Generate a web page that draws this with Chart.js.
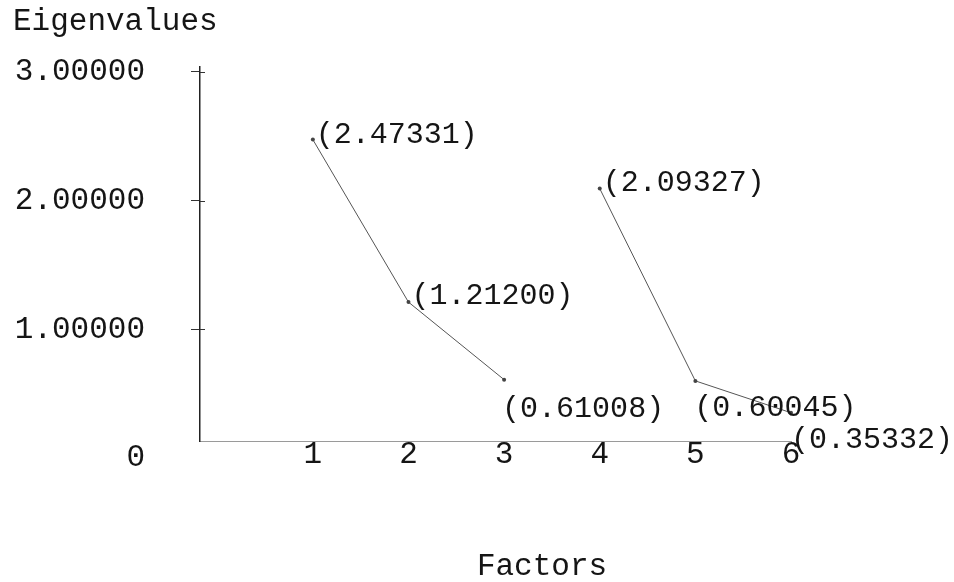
<!DOCTYPE html>
<html lang="en">
<head>
<meta charset="utf-8">
<title>Eigenvalues</title>
<script src="https://cdn.jsdelivr.net/npm/chart.js@4/dist/chart.umd.min.js"></script>
<style>
  html, body { margin: 0; padding: 0; background: #fff; }
  #wrap { width: 954px; height: 582px; }
</style>
</head>
<body>
<div id="wrap"><canvas id="chart" width="954" height="582"></canvas></div>
<script>
'use strict';

// Eigenvalues per factor, two separate runs (1-3 and 4-6)
const FACTORS_A = [1, 2, 3];
const EIGEN_A   = [2.47331, 1.21200, 0.61008];
const FACTORS_B = [4, 5, 6];
const EIGEN_B   = [2.09327, 0.60045, 0.35332];

// Axis ticks
const X_TICKS       = [1, 2, 3, 4, 5, 6];
const Y_TICKS       = [0, 1, 2, 3];
const Y_TICK_LABELS = ['0', '1.00000', '2.00000', '3.00000'];

const Y_TITLE = 'Eigenvalues';
const X_TITLE = 'Factors';

// Typewriter look
const MONO = "'Liberation Mono', 'Courier New', monospace";
const INK  = '#151515';

// Label offsets relative to each point [dx, dy], per dataset
const LABEL_OFFSETS = [
  [[3, -5], [3, -6], [-2, 29]],
  [[3, -6], [-1, 27], [0, 27]],
];

// Point labels "(x.xxxxx)" next to every point
const pointLabels = {
  id: 'pointLabels',
  afterDatasetsDraw(chart) {
    const ctx = chart.ctx;
    ctx.save();
    ctx.font = '30px ' + MONO;
    ctx.fillStyle = INK;
    ctx.textAlign = 'left';
    ctx.textBaseline = 'middle';
    chart.data.datasets.forEach((ds, di) => {
      const meta = chart.getDatasetMeta(di);
      meta.data.forEach((pt, i) => {
        const [dx, dy] = LABEL_OFFSETS[di][i];
        ctx.fillText('(' + ds.data[i].y.toFixed(5) + ')', pt.x + dx, pt.y + dy);
      });
    });
    ctx.restore();
  },
};

// Axis titles and the right half of the y tick crosses
const axisExtras = {
  id: 'axisExtras',
  afterDraw(chart) {
    const ctx = chart.ctx;
    const y = chart.scales.y;
    ctx.save();

    // Typewriter ticks cross the axis: add the inner half
    ctx.strokeStyle = '#333';
    ctx.lineWidth = 1;
    Y_TICKS.forEach(v => {
      if (v < y.min || v > y.max) return;
      const py = Math.round(y.getPixelForValue(v)) + 0.5;
      ctx.beginPath();
      ctx.moveTo(y.right, py);
      ctx.lineTo(y.right + 5, py);
      ctx.stroke();
    });

    ctx.font = '31px ' + MONO;
    ctx.fillStyle = INK;
    ctx.textBaseline = 'middle';
    ctx.textAlign = 'left';
    ctx.fillText(Y_TITLE, 13, 22);
    ctx.textAlign = 'center';
    ctx.fillText(X_TITLE, 542, 567);
    ctx.restore();
  },
};

function punkte(xs, ys) {
  return xs.map((x, i) => ({ x, y: ys[i] }));
}

const lineStyle = {
  borderColor: '#555',
  borderWidth: 1,
  pointRadius: 2,
  pointBackgroundColor: '#444',
  pointBorderColor: '#444',
  pointBorderWidth: 0,
  tension: 0,
  fill: false,
  clip: false,
};

new Chart(document.getElementById('chart'), {
  type: 'line',
  data: {
    datasets: [
      Object.assign({ label: 'Run 1', data: punkte(FACTORS_A, EIGEN_A) }, lineStyle),
      Object.assign({ label: 'Run 2', data: punkte(FACTORS_B, EIGEN_B) }, lineStyle),
    ],
  },
  options: {
    responsive: false,
    animation: false,
    devicePixelRatio: 1,
    layout: { padding: { top: 67, right: 163, left: 0, bottom: 0 } },
    plugins: {
      legend:  { display: false },
      tooltip: { enabled: false },
    },
    scales: {
      x: {
        type: 'linear',
        min: -0.18,
        max: 6,
        afterBuildTicks(scale) {
          scale.ticks = X_TICKS.map(v => ({ value: v }));
        },
        afterFit(scale) { scale.height = 141; },
        grid:   { display: false },
        border: { display: true, color: '#9a9a9a', width: 1, dash: [2, 2] },
        ticks: {
          padding: -10,
          color: INK,
          font: { family: MONO, size: 31, lineHeight: 1 },
          maxRotation: 0,
          callback: v => String(v),
        },
      },
      y: {
        type: 'linear',
        min: 0.134,
        max: 3.037,
        afterBuildTicks(scale) {
          // 0 lies just below the drawn axis, like in the original
          scale.ticks = Y_TICKS.map(v => ({ value: v }));
        },
        afterFit(scale) { scale.width = 200; },
        grid: {
          drawOnChartArea: false,
          drawTicks: true,
          tickLength: 9,
          // no tick mark for 0 (it sits below the axis end)
          color: c => (c.tick && c.tick.value === 0 ? 'rgba(0,0,0,0)' : '#333'),
        },
        border: { display: true, color: '#222', width: 1.5 },
        ticks: {
          padding: 46,
          color: INK,
          font: { family: MONO, size: 31, lineHeight: 1 },
          callback: v => Y_TICK_LABELS[Y_TICKS.indexOf(v)],
        },
      },
    },
  },
  plugins: [pointLabels, axisExtras],
});
</script>
</body>
</html>
